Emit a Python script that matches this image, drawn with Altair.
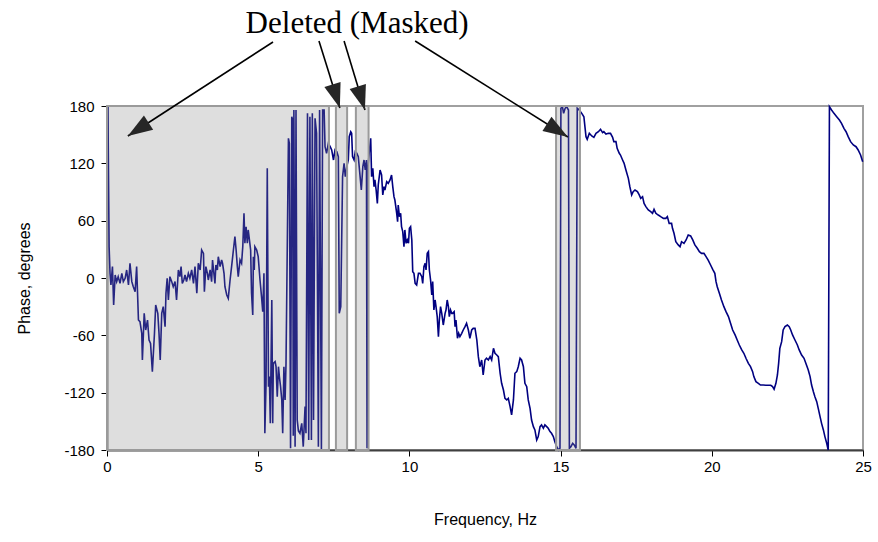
import altair as alt
import pandas as pd

# ---- measured phase curve (Hz, degrees) ----
freq = [
    0.03, 0.07, 0.10, 0.13, 0.18, 0.22, 0.27, 0.32, 0.37, 0.43, 0.49, 0.54, 0.60, 0.65, 0.71, 0.76,
    0.82, 0.87, 0.93, 0.98, 1.01, 1.04, 1.09, 1.15, 1.17, 1.23, 1.28, 1.34, 1.39, 1.44, 1.50, 1.57,
    1.61, 1.68, 1.72, 1.76, 1.81, 1.86, 1.92, 1.95, 1.99, 2.03, 2.08, 2.14, 2.19, 2.25, 2.30, 2.36,
    2.41, 2.45, 2.49, 2.54, 2.58, 2.63, 2.69, 2.74, 2.80, 2.86, 2.91, 2.97, 3.02,
    3.08, 3.13, 3.19, 3.22, 3.27, 3.32, 3.35, 3.41, 3.46, 3.49, 3.54, 3.57, 3.60, 3.65, 3.68, 3.74,
    3.79, 3.82, 3.87, 3.90, 3.96, 4.01, 4.07, 4.12, 4.18, 4.23, 4.27, 4.31, 4.34, 4.40, 4.45, 4.49,
    4.53, 4.56, 4.60, 4.64, 4.67, 4.71, 4.75, 4.78, 4.82, 4.84, 4.87, 4.89, 4.95, 5.00, 5.06, 5.11,
    5.15, 5.19, 5.22, 5.26, 5.30, 5.34, 5.37, 5.40, 5.45, 5.48, 5.50, 5.56, 5.59, 5.63, 5.67, 5.70,
    5.74, 5.78, 5.81, 5.85, 5.89, 5.92, 6.00, 6.03, 6.07, 6.11, 6.14, 6.16, 6.18, 6.22, 6.25, 6.29,
    6.33, 6.38, 6.44, 6.49, 6.55, 6.58, 6.63, 6.67, 6.71, 6.76, 6.79, 6.83, 6.88, 6.93, 6.99, 7.03,
    7.09, 7.13, 7.18, 7.21, 7.26, 7.32, 7.38, 7.43, 7.49, 7.54, 7.60, 7.65, 7.68, 7.73, 7.79, 7.84,
    7.88, 7.93, 7.98, 8.01, 8.06, 8.09, 8.12, 8.17, 8.21, 8.26, 8.31, 8.37, 8.41, 8.46, 8.50, 8.54,
    8.58, 8.60, 8.63, 8.68, 8.72, 8.75, 8.79, 8.83, 8.86, 8.90, 8.94, 8.97,
    9.03, 9.08, 9.12, 9.16, 9.19, 9.25, 9.30, 9.36, 9.41, 9.45, 9.49, 9.52, 9.58, 9.61, 9.63, 9.67,
    9.71, 9.74, 9.78, 9.82, 9.85, 9.89, 9.93, 9.97, 10.00, 10.04, 10.08, 10.11, 10.15, 10.19, 10.24,
    10.30, 10.35, 10.41, 10.44, 10.48, 10.52, 10.55, 10.59, 10.63, 10.66, 10.70, 10.74, 10.77, 10.81,
    10.85, 10.88, 10.92, 10.96, 10.99, 11.03, 11.07, 11.12, 11.18, 11.21, 11.25, 11.29, 11.32, 11.36,
    11.40, 11.43, 11.48, 11.51, 11.54, 11.59, 11.63, 11.67, 11.73, 11.78, 11.84, 11.89, 11.95, 12.00,
    12.06, 12.11,
    12.17, 12.23, 12.28, 12.33, 12.39, 12.44, 12.50, 12.55, 12.61, 12.67, 12.72, 12.78, 12.83, 12.89,
    12.94, 13.00, 13.05, 13.11, 13.16, 13.22, 13.27, 13.33, 13.38, 13.44, 13.49, 13.55, 13.60, 13.66,
    13.71, 13.77, 13.82, 13.88, 13.93, 13.99, 14.04, 14.10, 14.15, 14.21, 14.26, 14.32, 14.37, 14.43,
    14.48, 14.54, 14.59, 14.65, 14.70, 14.76, 14.81, 14.87, 14.93, 14.98, 15.01, 15.06, 15.10, 15.15,
    15.20, 15.26, 15.29, 15.34, 15.40, 15.45, 15.51, 15.55, 15.62,
    15.70, 15.77, 15.84, 15.88, 15.95, 16.03, 16.10, 16.17, 16.25, 16.32, 16.39, 16.43, 16.50, 16.58,
    16.65, 16.72, 16.76, 16.83, 16.87, 16.94, 16.98, 17.05, 17.10, 17.16, 17.24, 17.29, 17.35, 17.40,
    17.46, 17.54, 17.60, 17.65, 17.71, 17.76, 17.82, 17.90, 17.98, 18.04, 18.09, 18.15, 18.23, 18.31,
    18.40, 18.48, 18.53, 18.59, 18.67, 18.70, 18.75, 18.81, 18.89, 18.95, 19.00, 19.08, 19.15, 19.22,
    19.30, 19.37, 19.44, 19.52, 19.59, 19.66, 19.74, 19.81, 19.88, 19.96, 20.03, 20.10, 20.14, 20.18,
    20.25, 20.32, 20.40, 20.47, 20.55, 20.62, 20.69, 20.77, 20.84, 20.91, 20.99, 21.06, 21.13, 21.21,
    21.28, 21.35, 21.39, 21.46, 21.54, 21.61, 21.70, 21.79, 21.87, 21.95, 22.01, 22.06, 22.12, 22.17,
    22.21, 22.25, 22.31, 22.36, 22.42, 22.50, 22.56, 22.61, 22.67, 22.75, 22.83, 22.89, 22.97, 23.05,
    23.11, 23.19, 23.25, 23.30, 23.36, 23.41, 23.47, 23.52, 23.58, 23.63, 23.69, 23.74, 23.80, 23.85,
    23.89, 23.96, 24.04, 24.13, 24.22, 24.29, 24.37, 24.44, 24.51, 24.59, 24.68, 24.77, 24.84, 24.92,
    24.99,
]
phase = [
    180.0, 32.8, 4.9, -7.3, 11.9, -28.3, 3.1, -3.8, 1.4, -5.6, 4.9, -3.8, -0.3, 8.4, -7.3, 15.4,
    -3.8, -9.1, -14.3, 11.9, -16.0, -44.0, -45.7, -57.9, -85.8, -37.0, -54.4, -44.0, -64.9, -68.4, -98.0, -57.9,
    -28.3, -37.0, -57.9, -85.8, -37.0, -30.0, -50.9, -16.0, -0.3, -23.0, 1.4, -3.8, -9.1, -3.8, -23.0, 8.4,
    1.4, 11.9, -5.6, -2.1, 3.1, -3.8, 4.9, -0.3, 8.4, -5.6, 11.9, -16.0, 15.4,
    8.4, 29.3, 25.8, -14.3, 11.9, 4.9, -2.1, 8.4, -3.8, 18.8, 3.1, -5.6, 13.6, 8.4, 22.3, 11.9,
    18.8, 15.4, 4.9, -9.1, -17.8, -21.3, -2.1, 11.9, 29.3, 43.3, 29.3, 11.9, 1.4, 18.8, 15.4, 32.8,
    67.7, 36.3, 53.7, 36.3, 50.3, 39.8, 29.3, -16.0, -38.7, 22.3, 8.4, 32.8, 29.3, 22.3, -2.1, -19.5,
    -35.2, 4.9, -162.5, -110.2, 114.8, -113.7, -103.2, -152.1, -23.0, -152.1, -89.3, -87.5, -92.8, -124.2, -92.8, -103.2,
    -113.7, -127.6, -162.5, -92.8, -127.6, -89.3, 146.2, 140.9, -178.2, 168.8, 165.3, -165.0, 175.8, -176.5, 175.8, -148.6,
    -160.0, -162.5, -152.1, -176.5, -134.6, -162.5, 172.3, -169.5, 168.8, -169.5, 172.3, -148.6, 167.1, 151.4, -176.5, 175.8,
    -180.0, 175.8, 175.8, 137.4, 130.5, 140.9, 137.4, 134.0, 123.5, 134.0, 132.2, 127.0, -37.0, -30.0, 106.1, 120.0,
    106.1, 116.5, 123.5, 147.9, 153.1, 151.4, 127.0, 123.5, 132.2, 130.5, 127.0, 106.1, 92.1, 116.5, 123.5, 113.0,
    123.5, -178.2, 116.5, 134.0, 146.2, 106.1, 114.8, 95.6, 102.6, 92.1, 78.1, 97.3,
    113.0, 107.8, 86.9, 95.6, 92.1, 100.8, 99.1, 102.6, 107.8, 95.6, 85.1, 81.6, 67.7, 59.0, 76.4, 64.2,
    67.7, 53.7, 48.5, 32.8, 50.3, 36.3, 39.8, 36.3, 52.0, 53.7, 39.8, 6.6, 4.9, -5.6, -7.3,
    4.9, 4.9, 1.4, -5.6, 11.9, 15.4, 8.4, 25.8, 27.6, 8.4, -2.1, -17.8, -3.8, -33.5,
    -23.0, -30.0, -40.4, -61.4, -44.0, -30.0, -37.0, -49.2, -37.0, -33.5, -23.0, -30.0, -40.4, -33.5,
    -37.0, -37.0, -35.2, -50.9, -44.0, -63.1, -57.9, -61.4, -57.9, -54.4, -50.9, -47.4, -54.4, -63.1,
    -54.4, -52.7,
    -52.7, -64.9, -82.3, -92.8, -85.8, -101.5, -85.8, -84.0, -85.8, -82.3, -85.8, -73.6, -78.8, -80.6,
    -82.3, -99.7, -110.2, -117.2, -125.9, -127.6, -125.9, -134.6, -143.3, -127.6, -99.7, -98.0, -92.8, -84.0,
    -85.8, -92.8, -110.2, -113.7, -127.6, -136.4, -148.6, -155.6, -159.0, -169.5, -166.0, -155.6, -153.8, -157.3,
    -153.8, -155.6, -157.3, -160.8, -162.5, -166.0, -171.3, -176.5, -180.0, -178.2, 177.6, 179.3, 172.3, 177.6,
    179.3, 175.8, -178.2, -176.5, -173.0, -174.7, -178.2, 177.6, 175.8,
    172.3, 168.8, 147.9, 145.1, 151.4, 148.6, 147.2, 151.4, 153.1, 155.6, 152.1, 153.1, 150.7, 151.4,
    151.4, 147.2, 142.7, 142.7, 135.7, 130.5, 128.7, 123.5, 120.0, 113.0, 104.3, 95.6, 86.9, 90.4,
    92.1, 90.4, 86.9, 83.4, 85.1, 78.1, 74.7, 71.2, 69.4, 67.7, 71.9, 67.7, 65.9, 64.2,
    62.4, 62.4, 64.2, 57.2, 57.2, 52.0, 46.8, 38.0, 34.6, 32.8, 38.0, 36.3, 39.8, 45.0,
    44.0, 39.8, 34.6, 31.1, 27.6, 25.8, 25.8, 22.4, 18.8, 13.6, 9.1, 4.9, -3.8, -9.1,
    -16.0, -23.0, -30.0, -35.2, -40.4, -47.4, -54.4, -59.6, -64.9, -70.1, -75.3, -78.8, -84.0, -89.3,
    -92.8, -98.0, -103.2, -108.5, -110.2, -112.0, -112.0, -112.3, -112.3, -112.3, -113.7, -116.5, -110.2, -101.5,
    -89.3, -73.6, -66.6, -54.4, -50.9, -49.2, -50.9, -54.4, -59.6, -64.9, -70.1, -75.3, -80.6, -84.0,
    -89.3, -96.3, -103.2, -112.0, -119.0, -124.2, -129.4, -136.4, -145.1, -152.1, -159.0, -166.0, -173.0, -180.0,
    179.3, 175.8, 172.3, 168.8, 165.3, 161.9, 156.6, 153.1, 147.9, 142.7, 139.2, 137.4, 134.0, 128.7,
    121.7,
]

# ---- masked (deleted) bands ----
mask_start = [0.0, 7.57, 8.23, 14.85]
mask_end = [7.34, 7.94, 8.65, 15.64]

# ---- annotation ----
note_text = ["Deleted (Masked)"]
note_x = [8.27]
note_y = [266.0]
arrow_x_from = [5.49, 7.01, 7.84, 10.19]
arrow_y_from = [247.0, 248.0, 248.0, 248.0]
arrow_x_to = [0.69, 7.70, 8.53, 15.24]
arrow_y_to = [148.6, 177.9, 175.8, 147.6]
arrow_angle = [237.0, 162.6, 163.1, 122.1]

curve = pd.DataFrame({"x": freq, "y": phase})
masks = pd.DataFrame({"x": mask_start, "x2": mask_end,
                      "y": [-180] * len(mask_start), "y2": [180] * len(mask_start)})
arrows = pd.DataFrame({"x": arrow_x_from, "y": arrow_y_from,
                       "x2": arrow_x_to, "y2": arrow_y_to, "a": arrow_angle})
note = pd.DataFrame({"x": note_x, "y": note_y, "t": note_text})

FONT = "Liberation Sans"
xscale = alt.Scale(domain=[0, 25], nice=False, zero=False)
yscale = alt.Scale(domain=[-180, 180], nice=False, zero=False)
xaxis = alt.Axis(values=[0, 5, 10, 15, 20, 25], title="Frequency, Hz", grid=False,
                 tickSize=6, tickColor="#000000", tickWidth=1, domainColor="#404040", domainWidth=2,
                 labelFont=FONT, labelFontSize=15, labelColor="#000000", labelPadding=3,
                 labelFlush=False, labelExpr="'' + datum.value",
                 titleFont=FONT, titleFontSize=16, titleFontWeight="normal",
                 titleColor="#000000", titlePadding=37)
yaxis = alt.Axis(values=[-180, -120, -60, 0, 60, 120, 180], title="Phase, degrees", grid=False,
                 tickSize=6, tickColor="#000000", tickWidth=1, domainColor="#7a7a7a", domainWidth=2,
                 labelFont=FONT, labelFontSize=15, labelColor="#000000", labelPadding=7,
                 labelFlush=False, labelExpr="'' + datum.value",
                 titleFont=FONT, titleFontSize=16, titleFontWeight="normal",
                 titleColor="#000000", titlePadding=31)

X = alt.X("x:Q", scale=xscale, axis=xaxis)
Y = alt.Y("y:Q", scale=yscale, axis=yaxis)

line = alt.Chart(curve).mark_line(color="#000080", strokeWidth=1.6, interpolate="linear").encode(
    x=X, y=Y, order="x:Q")

bands = alt.Chart(masks).mark_rect(fill="#8a8a8a", fillOpacity=0.28, stroke="#9a9a9a",
                                   strokeWidth=2).encode(x=X, x2="x2:Q", y=Y, y2="y2:Q")

rules = alt.Chart(arrows).mark_rule(color="#000000", strokeWidth=1.6).encode(
    x=X, y=Y, x2="x2:Q", y2="y2:Q")

heads = alt.Chart(arrows).mark_point(shape="M0,0 L-0.55,1.6 L0.55,1.6 Z", filled=True, size=950,
                                     color="#262626", opacity=1).encode(
    x=alt.X("x2:Q", scale=xscale, axis=xaxis), y=alt.Y("y2:Q", scale=yscale, axis=yaxis),
    angle=alt.Angle("a:Q", scale=None))

label = alt.Chart(note).mark_text(font="Liberation Serif", fontSize=31, color="#000000",
                                  align="center", baseline="middle").encode(x=X, y=Y, text="t:N")

chart = alt.layer(line, bands, rules, heads, label).properties(
    width=756, height=344,
    autosize=alt.AutoSizeParams(type="none"),
    padding={"left": 107, "top": 106, "right": 15, "bottom": 92},
    background="white",
).configure_view(stroke="#a0a0a0", strokeWidth=2)

chart.save("out.html", embed_options={"renderer": "svg", "actions": False})
